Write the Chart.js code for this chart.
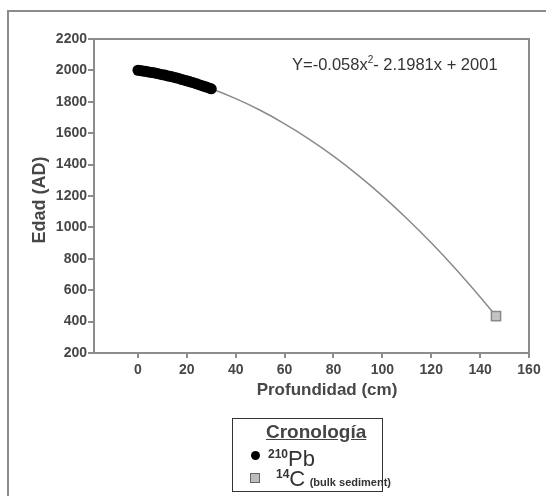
<!DOCTYPE html>
<html>
<head>
<meta charset="utf-8">
<script src="https://cdn.jsdelivr.net/npm/chart.js@4"></script>
<style>
  html, body { margin: 0; padding: 0; background: #fff; }
  #wrap { position: relative; width: 546px; height: 496px; overflow: hidden; font-family: "Liberation Sans", Arial, sans-serif; }
  #c { position: absolute; left: 0; top: 0; }
  .frame { position: absolute; left: 7px; top: 10px; width: 600px; height: 600px; border-left: 2px solid #8c8c8c; border-top: 2px solid #8c8c8c; }
  .txt { position: absolute; white-space: nowrap; color: #474747; }
  #eq { left: 292px; top: 55px; font-size: 16.5px; color: #333; }
  #eq sup { font-size: 10px; vertical-align: 7px; line-height: 0; }
  #xt { left: 327px; top: 390px; transform: translate(-50%, -50%); font-size: 17px; font-weight: bold; }
  #yt { left: 39px; top: 200px; transform: translate(-50%, -50%) rotate(-90deg); font-size: 18px; font-weight: bold; }
  #leg { position: absolute; left: 232px; top: 418px; width: 151px; height: 74px; border: 1px solid #333; background: #fff; box-sizing: border-box; }
  #legt { position: absolute; left: 33px; top: 2px; font-size: 19px; font-weight: bold; text-decoration: underline; color: #444; }
  .dot { position: absolute; left: 18px; top: 32px; width: 9px; height: 9px; border-radius: 50%; background: #000; }
  .sq { position: absolute; left: 17px; top: 54px; width: 8px; height: 8px; background: #bdbdbd; border: 1px solid #666; }
  .row { position: absolute; white-space: nowrap; color: #333; }
  .row .s { font-size: 12px; font-weight: bold; vertical-align: 8px; }
  .row .b { font-size: 22px; }
  .row .m { font-size: 11px; font-weight: bold; }
</style>
</head>
<body>
<div id="wrap">
  <canvas id="c" width="546" height="496"></canvas>
  <div class="frame"></div>
  <div id="eq" class="txt">Y=-0.058x<sup>2</sup>- 2.1981x + 2001</div>
  <div id="xt" class="txt">Profundidad (cm)</div>
  <div id="yt" class="txt">Edad (AD)</div>
  <div id="leg">
    <div id="legt">Cronología</div>
    <div class="dot"></div>
    <div class="row" style="left:35px; top:27px;"><span class="s">210</span><span class="b">Pb</span></div>
    <div class="sq"></div>
    <div class="row" style="left:43px; top:47px;"><span class="s">14</span><span class="b">C</span> <span class="m">(bulk sediment)</span></div>
  </div>
</div>
<script>
// Data
const pbDepth = [0,1,2,3,4,5,6,7,8,9,10,11,12,13,14,15,16,17,18,19,20,21,22,23,24,25,26,27,28,29,30];
const pbAge   = [2001,1999,1996,1994,1991,1988,1986,1983,1980,1976,1973,1970,1966,1962,1959,1955,1951,1947,1942,1938,1934,1929,1924,1920,1915,1909,1904,1899,1894,1888,1883];
const c14Depth = [146.5];
const c14Age   = [435];
const curveDepth = [0,10,20,30,40,50,60,70,80,90,100,110,120,130,140,146.5];
const curveAge   = [2001,1973,1934,1883,1820,1746,1660,1563,1454,1333,1201,1057,902,735,557,435];
const xTicks = [0,20,40,60,80,100,120,140,160];
const yTicks = [200,400,600,800,1000,1200,1400,1600,1800,2000,2200];

const toXY = (xs, ys) => xs.map((x, i) => ({x: x, y: ys[i]}));

const framePlugin = {
  id: 'frame',
  afterDraw(chart) {
    const a = chart.chartArea, ctx = chart.ctx;
    ctx.save();
    ctx.strokeStyle = '#8c8c8c';
    ctx.lineWidth = 2;
    ctx.strokeRect(a.left, a.top, a.right - a.left, a.bottom - a.top);
    ctx.restore();
  }
};

const tickFont = {family: '"Liberation Sans", Arial, sans-serif', size: 14, weight: 'bold'};

new Chart(document.getElementById('c'), {
  type: 'scatter',
  data: {
    datasets: [
      {
        type: 'line',
        data: toXY(curveDepth, curveAge),
        borderColor: '#8a8a8a',
        borderWidth: 1.5,
        pointRadius: 0,
        tension: 0.4,
        fill: false,
        order: 3
      },
      {
        data: toXY(pbDepth, pbAge),
        backgroundColor: '#000',
        borderColor: '#000',
        pointRadius: 5.5,
        borderWidth: 0,
        order: 1
      },
      {
        data: toXY(c14Depth, c14Age),
        pointStyle: 'rect',
        pointRadius: 6.5,
        backgroundColor: '#c4c4c4',
        borderColor: '#8a8a8a',
        borderWidth: 1.5,
        order: 0
      }
    ]
  },
  options: {
    responsive: false,
    animation: false,
    events: [],
    layout: {padding: {left: 0, top: 39, right: 17, bottom: 0}},
    plugins: {legend: {display: false}, tooltip: {enabled: false}},
    scales: {
      x: {
        type: 'linear',
        min: -18,
        max: 160,
        afterBuildTicks: s => { s.ticks = xTicks.map(v => ({value: v})); },
        afterFit: s => { s.height = 143; },
        grid: {drawOnChartArea: false, drawTicks: true, tickLength: 5, color: '#8c8c8c', lineWidth: 2},
        border: {display: true, color: '#8c8c8c', width: 2},
        ticks: {font: tickFont, color: '#474747', padding: 4, maxRotation: 0, callback: v => String(v)}
      },
      y: {
        type: 'linear',
        min: 200,
        max: 2200,
        afterBuildTicks: s => { s.ticks = yTicks.map(v => ({value: v})); },
        afterFit: s => { s.width = 94; },
        grid: {drawOnChartArea: false, drawTicks: true, tickLength: 6, color: '#8c8c8c', lineWidth: 2},
        border: {display: true, color: '#8c8c8c', width: 2},
        ticks: {font: tickFont, color: '#474747', padding: 1, callback: v => String(v)}
      }
    }
  },
  plugins: [framePlugin]
});
</script>
</body>
</html>
